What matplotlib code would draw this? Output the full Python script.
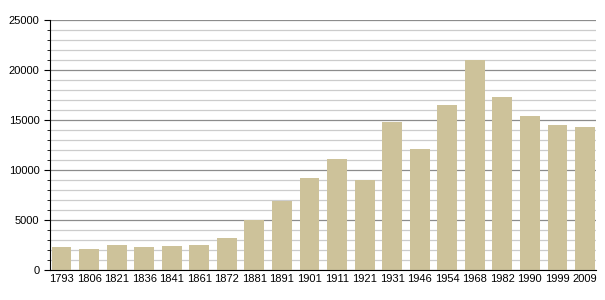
import matplotlib.pyplot as plt
from matplotlib.ticker import MultipleLocator

plt.rcParams['font.family'] = ['Liberation Sans', 'DejaVu Sans']

years = ['1793', '1806', '1821', '1836', '1841', '1861', '1872', '1881', '1891', '1901',
         '1911', '1921', '1931', '1946', '1954', '1968', '1982', '1990', '1999', '2009']
population = [2300, 2100, 2500, 2300, 2400, 2500, 3200, 5000, 6950, 9200,
              11100, 9000, 14830, 12100, 16530, 21000, 17300, 15400, 14500, 14300]

fig = plt.figure(figsize=(6.05, 3.0), dpi=100)
ax = fig.add_axes([50 / 605, 30 / 300, 546 / 605, 250 / 300])

x = list(range(len(years)))
ax.bar(x, population, width=0.72, color='#cdc29a', zorder=3)

ax.set_ylim(0, 25000)
ax.set_xlim(-0.42, 19.4)
ax.yaxis.set_major_locator(MultipleLocator(5000))
ax.yaxis.set_minor_locator(MultipleLocator(1000))
ax.grid(axis='y', which='major', color='#8c8c8c', linewidth=0.9, zorder=1)
ax.grid(axis='y', which='minor', color='#cccccc', linewidth=0.9, zorder=1)

ax.set_xticks(x)
ax.set_xticklabels(years)
ax.tick_params(axis='x', length=0, labelsize=8, pad=3)
ax.tick_params(axis='y', which='major', length=4, labelsize=8, direction='out')
ax.tick_params(axis='y', which='minor', length=2.5, direction='out')

for side in ['top', 'right']:
    ax.spines[side].set_visible(False)
ax.spines['left'].set_color('black')
ax.spines['bottom'].set_color('black')
ax.spines['left'].set_zorder(4)
ax.spines['bottom'].set_zorder(4)

fig.savefig('out.png', dpi=100)
